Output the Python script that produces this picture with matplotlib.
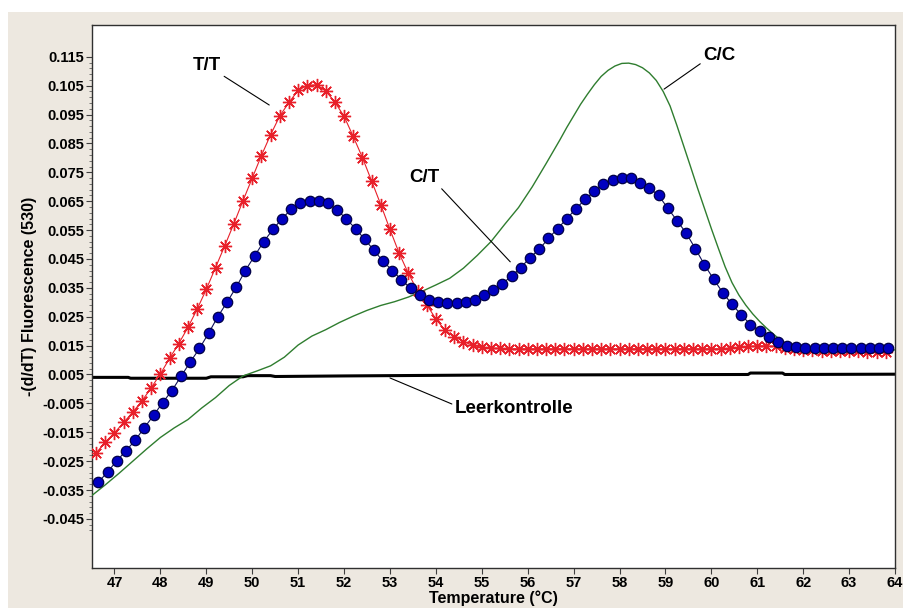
import matplotlib
matplotlib.use("Agg")
import matplotlib.pyplot as plt
from matplotlib.patches import Rectangle

plt.rcParams['font.family'] = ['Liberation Sans', 'DejaVu Sans']
plt.rcParams['font.weight'] = 'bold'

# T/T genotype (red asterisks)
tt_temp = [46.6, 46.8, 47.0, 47.2, 47.4, 47.6, 47.8, 48.0, 48.2, 48.4,
           48.6, 48.8, 49.0, 49.2, 49.4, 49.6, 49.8, 50.0, 50.2, 50.4,
           50.6, 50.8, 51.0, 51.2, 51.4, 51.6, 51.8, 52.0, 52.2, 52.4,
           52.6, 52.8, 53.0, 53.2, 53.4, 53.6, 53.8, 54.0, 54.2, 54.4,
           54.6, 54.8, 55.0, 55.2, 55.4, 55.6, 55.8, 56.0, 56.2, 56.4,
           56.6, 56.8, 57.0, 57.2, 57.4, 57.6, 57.8, 58.0, 58.2, 58.4,
           58.6, 58.8, 59.0, 59.2, 59.4, 59.6, 59.8, 60.0, 60.2, 60.4,
           60.6, 60.8, 61.0, 61.2, 61.4, 61.6, 61.8, 62.0, 62.2, 62.4,
           62.6, 62.8, 63.0, 63.2, 63.4, 63.6, 63.8]
tt_vals = [-0.0222, -0.0184, -0.0152, -0.0116, -0.0080, -0.0041, 0.0004, 0.0052, 0.0106, 0.0157,
           0.0213, 0.0276, 0.0345, 0.0420, 0.0495, 0.0572, 0.0652, 0.0730, 0.0808, 0.0880,
           0.0945, 0.0992, 0.1034, 0.1050, 0.1053, 0.1032, 0.0993, 0.0944, 0.0874, 0.0801,
           0.0720, 0.0638, 0.0552, 0.0470, 0.0400, 0.0340, 0.0292, 0.0242, 0.0203, 0.0181,
           0.0164, 0.0151, 0.0144, 0.0141, 0.0140, 0.0139, 0.0139, 0.0139, 0.0139, 0.0139,
           0.0139, 0.0139, 0.0139, 0.0139, 0.0139, 0.0139, 0.0139, 0.0139, 0.0139, 0.0139,
           0.0139, 0.0139, 0.0139, 0.0139, 0.0139, 0.0139, 0.0139, 0.0139, 0.0139, 0.0141,
           0.0144, 0.0147, 0.0149, 0.0149, 0.0147, 0.0143, 0.0139, 0.0136, 0.0134, 0.0133,
           0.0132, 0.0131, 0.0130, 0.0130, 0.0129, 0.0128, 0.0128]

# C/T genotype (blue dots)
ct_temp = [46.65, 46.85, 47.05, 47.25, 47.45, 47.65, 47.85, 48.05, 48.25, 48.45,
           48.65, 48.85, 49.05, 49.25, 49.45, 49.65, 49.85, 50.05, 50.25, 50.45,
           50.65, 50.85, 51.05, 51.25, 51.45, 51.65, 51.85, 52.05, 52.25, 52.45,
           52.65, 52.85, 53.05, 53.25, 53.45, 53.65, 53.85, 54.05, 54.25, 54.45,
           54.65, 54.85, 55.05, 55.25, 55.45, 55.65, 55.85, 56.05, 56.25, 56.45,
           56.65, 56.85, 57.05, 57.25, 57.45, 57.65, 57.85, 58.05, 58.25, 58.45,
           58.65, 58.85, 59.05, 59.25, 59.45, 59.65, 59.85, 60.05, 60.25, 60.45,
           60.65, 60.85, 61.05, 61.25, 61.45, 61.65, 61.85, 62.05, 62.25, 62.45,
           62.65, 62.85, 63.05, 63.25, 63.45, 63.65, 63.85]
ct_vals = [-0.0323, -0.0287, -0.0249, -0.0214, -0.0178, -0.0134, -0.0092, -0.0047, -0.0006, 0.0044,
           0.0093, 0.0140, 0.0193, 0.0250, 0.0300, 0.0352, 0.0410, 0.0460, 0.0510, 0.0552,
           0.0590, 0.0622, 0.0643, 0.0652, 0.0652, 0.0642, 0.0620, 0.0588, 0.0555, 0.0518,
           0.0480, 0.0442, 0.0410, 0.0378, 0.0348, 0.0325, 0.0309, 0.0300, 0.0296, 0.0296,
           0.0300, 0.0309, 0.0325, 0.0342, 0.0365, 0.0391, 0.0420, 0.0455, 0.0483, 0.0521,
           0.0555, 0.0589, 0.0624, 0.0656, 0.0684, 0.0708, 0.0722, 0.0730, 0.0730, 0.0714,
           0.0696, 0.0670, 0.0626, 0.0583, 0.0540, 0.0486, 0.0430, 0.0380, 0.0333, 0.0293,
           0.0257, 0.0223, 0.0201, 0.0179, 0.0161, 0.0150, 0.0144, 0.0142, 0.0141, 0.0141,
           0.0141, 0.0141, 0.0141, 0.0141, 0.0141, 0.0141, 0.0141]

# C/C genotype (green line)
cc_temp = [46.5, 46.8, 47.1, 47.4, 47.7, 48.0, 48.3, 48.6, 48.9, 49.2,
           49.5, 49.8, 50.1, 50.4, 50.7, 51.0, 51.3, 51.6, 51.9, 52.2,
           52.5, 52.8, 53.1, 53.4, 53.7, 54.0, 54.3, 54.6, 54.9, 55.2,
           55.5, 55.8, 56.1, 56.4, 56.7, 56.85, 57.0, 57.15, 57.3, 57.45,
           57.6, 57.75, 57.9, 58.05, 58.2, 58.35, 58.5, 58.65, 58.8, 58.95,
           59.1, 59.25, 59.4, 59.55, 59.7, 59.85, 60.0, 60.15, 60.3, 60.45,
           60.6, 60.75, 60.9, 61.05, 61.2, 61.35, 61.5, 61.65, 61.8, 62.1,
           62.4, 62.7, 63.0, 63.3, 63.6, 64.0]
cc_vals = [-0.0370, -0.0332, -0.0292, -0.0250, -0.0208, -0.0168, -0.0135, -0.0106, -0.0066, -0.0030,
           0.0012, 0.0045, 0.0062, 0.0080, 0.0110, 0.0152, 0.0183, 0.0205, 0.0230, 0.0252,
           0.0272, 0.0289, 0.0302, 0.0318, 0.0338, 0.0360, 0.0383, 0.0418, 0.0462, 0.0510,
           0.0570, 0.0628, 0.0700, 0.0780, 0.0862, 0.0905, 0.0945, 0.0985, 0.1020, 0.1053,
           0.1082, 0.1103, 0.1118, 0.1127, 0.1128, 0.1123, 0.1112, 0.1094, 0.1068, 0.1030,
           0.0980, 0.0912, 0.0840, 0.0768, 0.0695, 0.0625, 0.0555, 0.0488, 0.0423, 0.0368,
           0.0325, 0.0290, 0.0260, 0.0234, 0.0211, 0.0190, 0.0170, 0.0154, 0.0144, 0.0137,
           0.0136, 0.0135, 0.0135, 0.0135, 0.0135, 0.0135]

# no-template control (black line)
ntc_temp = [46.5, 47.3, 47.35, 49.0, 49.1, 49.8, 49.9, 50.4, 50.5, 52.0,
            55.0, 58.0, 60.8, 60.85, 61.55, 61.6, 64.0]
ntc_vals = [0.0040, 0.0040, 0.0037, 0.0037, 0.0042, 0.0042, 0.0046, 0.0046, 0.0043, 0.0045,
            0.0048, 0.0049, 0.0050, 0.0055, 0.0055, 0.0050, 0.0051]

x_ticks = list(range(47, 65))
y_ticks = [-0.045, -0.035, -0.025, -0.015, -0.005, 0.005, 0.015, 0.025, 0.035,
           0.045, 0.055, 0.065, 0.075, 0.085, 0.095, 0.105, 0.115]
y_tick_labels = ['-0.045', '-0.035', '-0.025', '-0.015', '-0.005', '0.005', '0.015', '0.025',
                 '0.035', '0.045', '0.055', '0.065', '0.075', '0.085', '0.095', '0.105', '0.115']
y_minor = [round(-0.049 + 0.002 * i, 3) for i in range(83)]

fig = plt.figure(figsize=(9.09, 6.08), dpi=100, facecolor='white')
# beige panel behind the plot area
fig.patches.append(Rectangle((8 / 909, 0), 895 / 909, 1 - 12 / 608,
                             transform=fig.transFigure, facecolor='#ede8e0',
                             edgecolor='none', zorder=-10))
ax = fig.add_axes([92 / 909, 40 / 608, 803 / 909, 543 / 608])
ax.set_facecolor('white')
ax.set_zorder(1)

ax.plot(ntc_temp, ntc_vals, color='black', lw=2.2, zorder=2)
ax.plot(cc_temp, cc_vals, color='#2f7d2f', lw=1.0, zorder=3)
ax.plot(tt_temp, tt_vals, color='#e8202a', lw=0.8, marker=(8, 2, 0), ms=9.5,
        mew=1.0, mec='#e8202a', zorder=4)
ax.plot(ct_temp, ct_vals, color='#10105a', lw=0.8, marker='o', ms=7.5,
        mfc='#0000c0', mec='#000048', mew=0.9, zorder=5)

ax.set_xlim(46.51, 64.0)
ax.set_ylim(-0.062, 0.126)
ax.set_xticks(x_ticks)
ax.set_xticklabels([str(t) for t in x_ticks])
ax.set_yticks(y_ticks)
ax.set_yticklabels(y_tick_labels)
ax.set_yticks(y_minor, minor=True)
ax.tick_params(axis='both', which='major', labelsize=10.5, length=4.5, width=0.8,
               color='#404040', direction='out')
ax.tick_params(axis='x', which='major', pad=1.5)
ax.tick_params(axis='y', which='major', pad=1)
ax.tick_params(axis='y', which='minor', length=2.5, width=0.6, color='#606060')
for s in ax.spines.values():
    s.set_color('#303030')
    s.set_linewidth(1.0)

ax.set_xlabel('Temperature (°C)', fontsize=11.5, fontweight='bold', labelpad=0)
ax.set_ylabel('-(d/dT) Fluorescence (530)', fontsize=11.5, fontweight='bold', labelpad=4)

line_props = dict(arrowstyle='-', color='black', lw=0.8, shrinkA=0, shrinkB=0)
ax.annotate('T/T', xy=(50.37, 0.0983), xytext=(49.02, 0.1121), fontsize=13.5,
            fontweight='bold', ha='center', va='center',
            arrowprops=dict(line_props, relpos=(0.95, 0.0)))
ax.annotate('C/T', xy=(55.62, 0.0440), xytext=(53.74, 0.0732), fontsize=13.5,
            fontweight='bold', ha='center', va='center',
            arrowprops=dict(line_props, relpos=(1.0, 0.0)))
ax.annotate('C/C', xy=(58.97, 0.1038), xytext=(60.17, 0.1156), fontsize=13.5,
            fontweight='bold', ha='center', va='center',
            arrowprops=dict(line_props, relpos=(0.0, 0.1)))
ax.annotate('Leerkontrolle', xy=(53.0, 0.0038), xytext=(55.70, -0.0068), fontsize=13.5,
            fontweight='bold', ha='center', va='center',
            arrowprops=dict(line_props, relpos=(0.0, 0.7)))

# tick labels get rebuilt on draw, so make them bold after a first draw
fig.canvas.draw()
for lbl in ax.get_xticklabels() + ax.get_yticklabels():
    lbl.set_fontweight('bold')

fig.savefig('out.png', dpi=100, facecolor=fig.get_facecolor())
